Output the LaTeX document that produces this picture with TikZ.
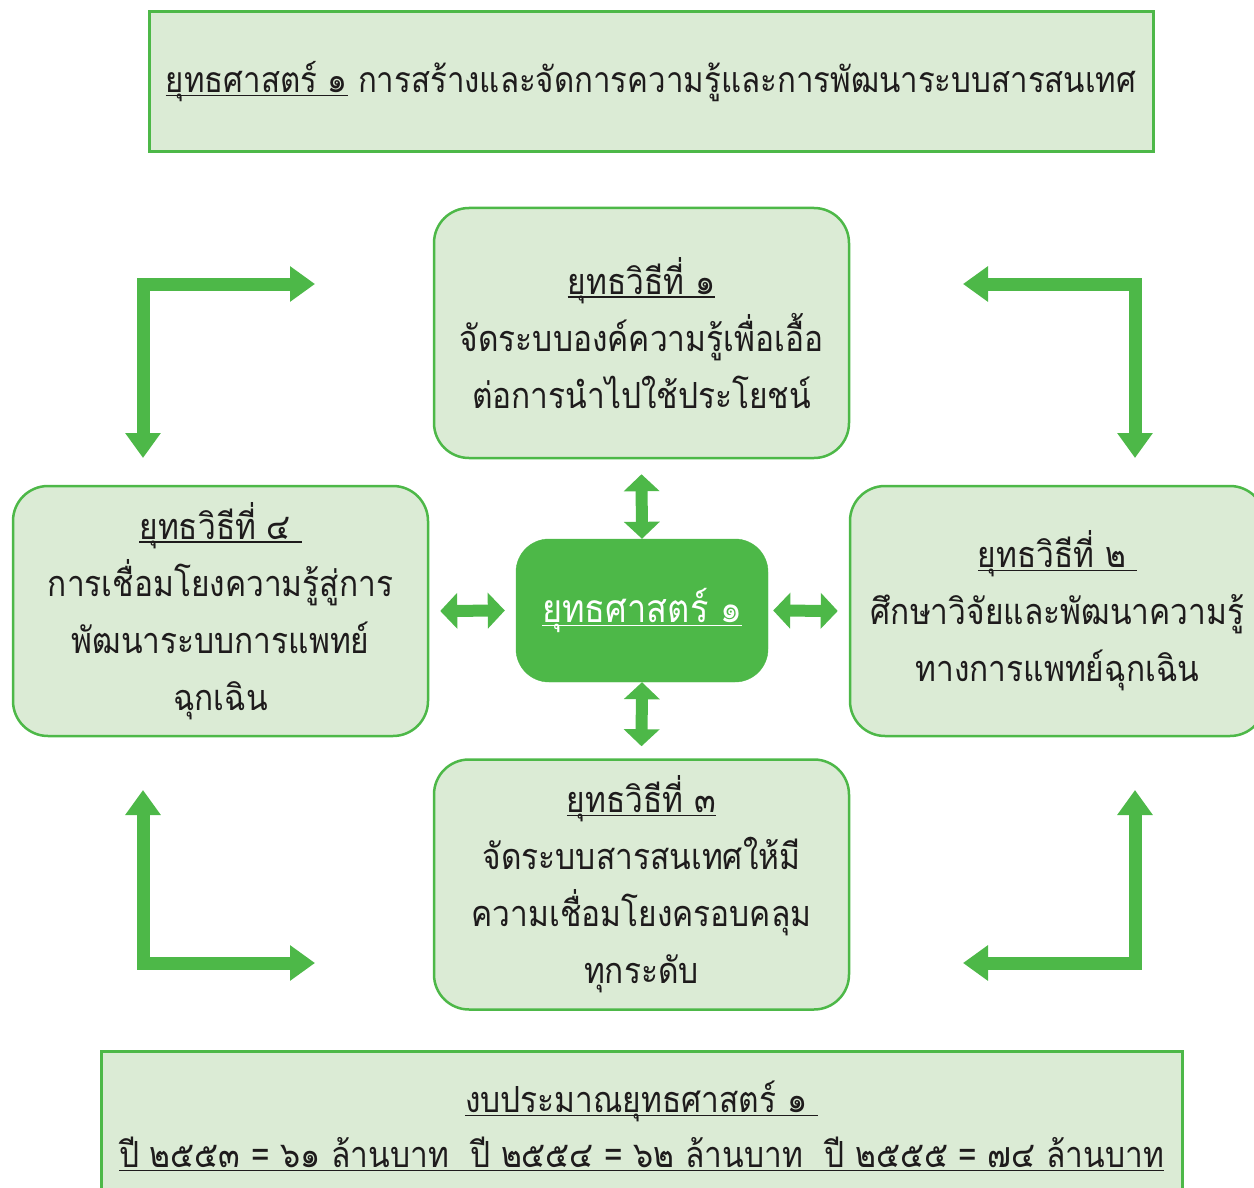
\documentclass[tikz,border=0pt]{standalone}
\usepackage{fontspec}
\setmainfont[Script=Thai,FakeStretch=0.88]{Loma}
\usetikzlibrary{arrows.meta,calc}
\definecolor{gfill}{HTML}{DBEBD5}
\definecolor{gline}{HTML}{4DB848}
\definecolor{tcol}{HTML}{1E1B1C}
\newcommand\myul[1]{\begingroup\setbox0=\hbox{#1}\rlap{\rule[-3.5pt]{\wd0}{1.5pt}}\box0\endgroup}
\tikzset{
  rbox/.style={draw=gline, line width=2.5pt, fill=gfill, rounded corners=35pt,
    minimum width=415pt, minimum height=250pt, align=center, text=tcol, inner sep=0pt,
    font=\fontsize{36}{57}\selectfont},
  sbox/.style={draw=gline, line width=3pt, fill=gfill, align=center, text=tcol, inner sep=0pt,
    font=\fontsize{36}{55}\selectfont},
  larrow/.style={draw=gline, line width=13pt, {Triangle[width=34pt,length=25pt]}-{Triangle[width=34pt,length=25pt]}},
  darrow/.style={draw=gline, line width=12pt, {Triangle[width=35pt,length=17pt]}-{Triangle[width=35pt,length=17pt]}}
}
\begin{document}
\begin{tikzpicture}[x=1pt,y=-1pt]
\useasboundingbox (0,0) rectangle (1254,1188);
\clip (0,0) rectangle (1254,1188);
% top title box
\node[sbox, minimum width=1004pt, minimum height=140pt, font=\fontsize{35.5}{55}\selectfont] (title) at (651,82)
  {\myul{ยุทธศาสตร์ ๑} การสร้างและจัดการความรู้และการพัฒนาระบบสารสนเทศ};
% strategy boxes
\node[rbox] (b1) at (641.5,333)
  {\myul{ยุทธวิธีที่ ๑}\\จัดระบบองค์ความรู้เพื่อเอื้อ\\ต่อการนำไปใช้ประโยชน์};
\node[rbox] (b4) at (220.5,611)
  {\myul{ยุทธวิธีที่ ๔ }\\การเชื่อมโยงความรู้สู่การ\\พัฒนาระบบการแพทย์\\ฉุกเฉิน};
\node[rbox] (b2) at (1057.5,611)
  {\myul{ยุทธวิธีที่ ๒ }\\ศึกษาวิจัยและพัฒนาความรู้\\ทางการแพทย์ฉุกเฉิน};
\node[rbox] (b3) at (641.5,884.5)
  {\myul{ยุทธวิธีที่ ๓}\\จัดระบบสารสนเทศให้มี\\ความเชื่อมโยงครอบคลุม\\ทุกระดับ};
% centre
\node[draw=gline, fill=gline, rounded corners=33pt, minimum width=252pt, minimum height=143pt,
  text=white, inner sep=0pt, font=\fontsize{39}{45}\selectfont] (c) at (642,610.5)
  {\raisebox{6pt}{\myul{ยุทธศาสตร์ ๑}}};
% budget box
\node[sbox, minimum width=1081pt, minimum height=150pt] (bud) at (641.5,1126)
  {\myul{งบประมาณยุทธศาสตร์ ๑ }\\\myul{ปี ๒๕๕๓ = ๖๑ ล้านบาท \ ปี ๒๕๕๔ = ๖๒ ล้านบาท \ ปี ๒๕๕๕ = ๗๔ ล้านบาท}};
% double arrows
\draw[darrow] ($(b1.south)+(0,15)$) -- (c.north);
\draw[darrow] (c.south) -- ($(b3.north)+(0,-12)$);
\draw[darrow] ($(b4.east)+(11,0)$) -- ($(c.west)+(-11,0)$);
\draw[darrow] ($(c.east)+(5,0)$) -- ($(b2.west)+(-11,0)$);
% corner arrows
\coordinate (tla) at (315,284); \coordinate (tlc) at (143,284); \coordinate (tlb) at (143,458);
\coordinate (tra) at (963,284); \coordinate (trc) at (1135,284); \coordinate (trb) at (1135,458);
\coordinate (bla) at (143,790); \coordinate (blc) at (143,963); \coordinate (blb) at (315,963);
\coordinate (bra) at (1135,790); \coordinate (brc) at (1135,963); \coordinate (brb) at (963,963);
\draw[larrow] (tla) -- (tlc) -- (tlb);
\draw[larrow] (tra) -- (trc) -- (trb);
\draw[larrow] (bla) -- (blc) -- (blb);
\draw[larrow] (bra) -- (brc) -- (brb);
\end{tikzpicture}
\end{document}
